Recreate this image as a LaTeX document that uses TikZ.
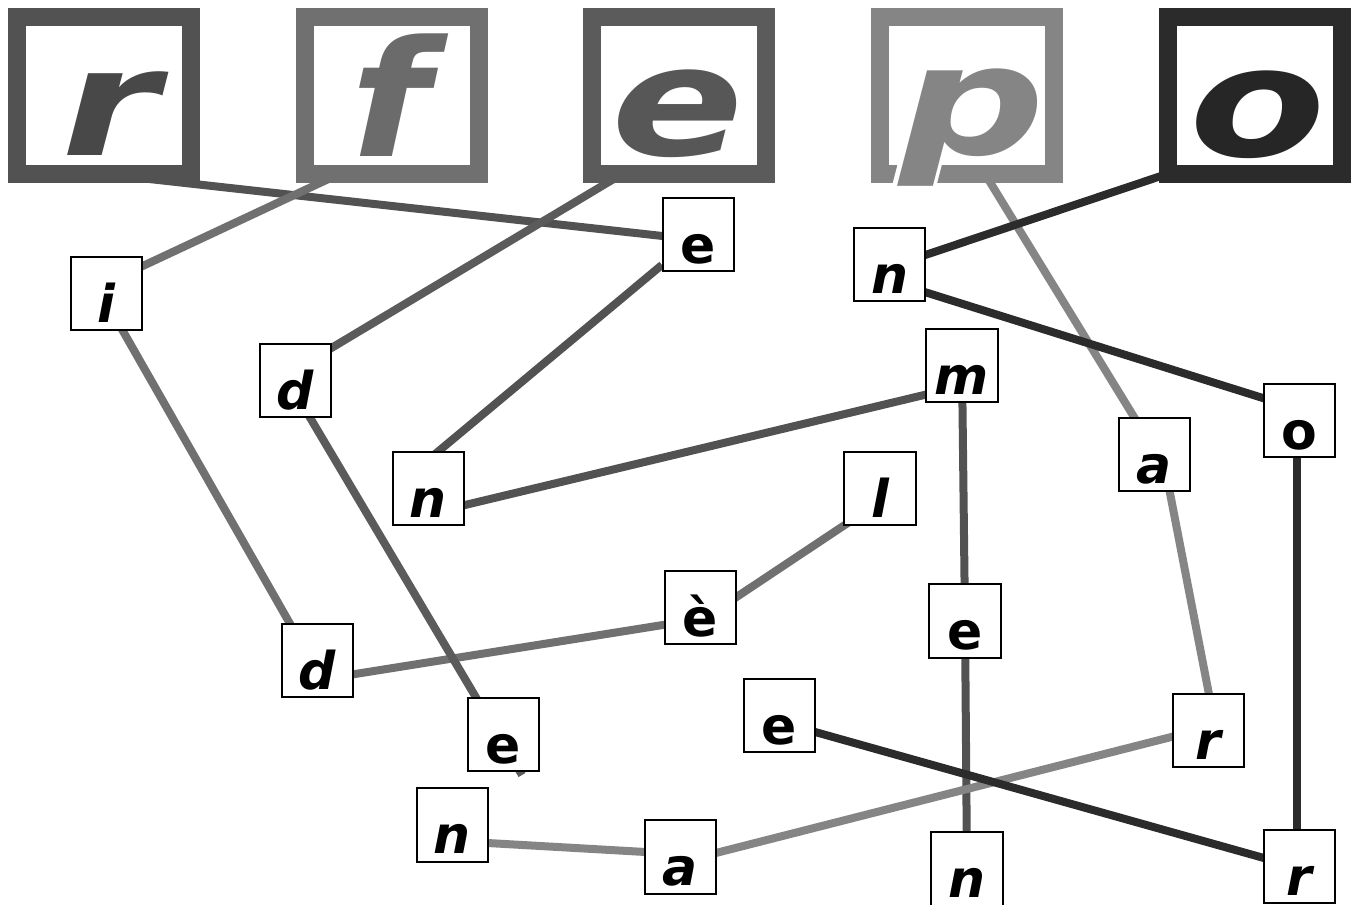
\documentclass[tikz,border=0pt]{standalone}
\usepackage{fontspec}
\setmainfont{DejaVu Sans}
\usetikzlibrary{calc,backgrounds}
\definecolor{cR}{HTML}{525252}
\definecolor{cF}{HTML}{707070}
\definecolor{cE}{HTML}{5B5B5B}
\definecolor{cP}{HTML}{858585}
\definecolor{cO}{HTML}{2B2B2B}
\definecolor{lR}{HTML}{484848}
\definecolor{lF}{HTML}{6B6B6B}
\definecolor{lE}{HTML}{575757}
\definecolor{lP}{HTML}{858585}
\definecolor{lO}{HTML}{262626}
\tikzset{
  topbox/.style={draw=#1, line width=13.5pt, fill=white, minimum width=130.5pt, minimum height=117.75pt, inner sep=0pt},
  toplet/.style={text=#1, anchor=base, inner sep=0pt, font=\bfseries\itshape\fontsize{127.5}{127.5}\selectfont},
  lbox/.style={draw=black, line width=1.3pt, fill=white, inner sep=0pt, text width=53.5pt, align=center, text height=48.9pt, text depth=6.1pt, font=\bfseries\fontsize{39}{39}\selectfont},
  obl/.style={font=\bfseries\itshape\fontsize{39}{39}\selectfont},
  link/.style={line width=6pt, draw=#1},
}
\begin{document}
\begin{tikzpicture}[x=0.75pt,y=-0.75pt]
\useasboundingbox (0,0) rectangle (1352,905);
% top boxes
\node[topbox=cR] (rB) at (104,95.5) {};
\node[topbox=cF] (fB) at (391.5,95.5) {};
\node[topbox=cE] (eB) at (679,95.5) {};
\node[topbox=cP] (pB) at (966.5,95.5) {};
\node[topbox=cO] (oB) at (1254.5,95.5) {};
% halo of p
\foreach \a in {0,30,...,330}
  \node[toplet=white] (pH\a) at ($(972,155)+(\a:4)$) {\scalebox{1.2}[0.9]{p}};
% top letters
\node[toplet=lR] (rL) at (110,156) {\scalebox{1.16}[0.88]{r}};
\node[toplet=lF] (fL) at (390,157) {\scalebox{1.07}[0.95]{f}};
\node[toplet=lE] (eL) at (678,156) {\scalebox{1.15}[0.9]{e}};
\node[toplet=lP] (pL) at (972,155) {\scalebox{1.2}[0.9]{p}};
\node[toplet=lO] (oL) at (1258,157) {\scalebox{1.17}[0.9]{o}};
% small nodes
\node[lbox] (e1) at (698.5,234.5) {e};
\node[lbox,obl] (i1) at (106.5,293.5) {i};
\node[lbox,obl] (n1) at (889.5,264.5) {n};
\node[lbox,obl] (d1) at (295.5,380.5) {d};
\node[lbox,obl] (m1) at (962,365.5) {m};
\node[lbox] (o1) at (1299.5,420.5) {o};
\node[lbox,obl] (a1) at (1154.5,454.5) {a};
\node[lbox,obl] (n2) at (428.5,488.5) {n};
\node[lbox,obl] (l1) at (880,488.5) {l};
\node[lbox] (e5) at (700.5,607.5) {è};
\node[lbox] (e2) at (965,621) {e};
\node[lbox,obl] (d2) at (317.5,660.5) {d};
\node[lbox] (e3) at (503.5,734.5) {e};
\node[lbox] (e4) at (779.5,715.5) {e};
\node[lbox,obl] (r1) at (1208.5,730.5) {r};
\node[lbox,obl] (n3) at (452.5,825) {n};
\node[lbox,obl] (a2) at (680.5,857) {a};
\node[lbox,obl] (n4) at (967,869) {n};
\node[lbox,obl] (r2) at (1299.5,866.5) {r};
\begin{pgfonlayer}{background}
\fill[white] (0,0) rectangle (1352,905);
% r chain
\draw[link=cR] ($(rB)+(0,78.5)$) -- ($(e1)+(0,5.5)$);
\draw[link=cR] (e1) -- ($(n2)+(-12.5,-18.5)$);
\draw[link=cR] ($(m1)+(-17,24.5)$) -- ($(n2)+(11.5,22.5)$);
\draw[link=cR] (m1) -- (e2);
\draw[link=cR] (e2) -- (n4);
% f chain
\draw[link=cF] ($(fB)+(-54.5,79.5)$) -- ($(i1)+(0,-10.5)$);
\draw[link=cF] ($(i1)+(-5,0)$) -- ($(d2)+(-6.5,0)$);
\draw[link=cF] ($(d2)+(0,19.5)$) -- ($(e5)+(0,11.5)$);
\draw[link=cF] ($(e5)+(0,13.5)$) -- ($(l1)+(0,13)$);
% e chain
\draw[link=cE] ($(eB)+(-57,78.5)$) -- ($(d1)+(0,-11)$);
\draw[link=cE] ($(d1)+(-7.5,0)$) -- ($(e3)+(18.5,40.5)$);
% p chain
\draw[link=cP] ($(pB)+(18.5,78.5)$) -- ($(a1)+(2.5,0)$);
\draw[link=cP] ($(a1)+(8,0)$) -- ($(r1)+(7.5,0)$);
\draw[link=cP] ($(r1)+(0,-3)$) -- ($(a2)+(0,5)$);
\draw[link=cP] ($(a2)+(0,-3)$) -- ($(n3)+(0,16)$);
% o chain
\draw[link=cO] ($(oB)+(-84.5,77.5)$) -- ($(n1)+(0,2.5)$);
\draw[link=cO] ($(n1)+(0,16.5)$) -- ($(o1)+(0,-11)$);
\draw[link=cO] ($(o1)+(-2.5,0)$) -- ($(r2)+(-2.5,0)$);
\draw[link=cO] ($(e4)+(0,6.5)$) -- ($(r2)+(0,1.5)$);
\end{pgfonlayer}
\end{tikzpicture}
\end{document}
